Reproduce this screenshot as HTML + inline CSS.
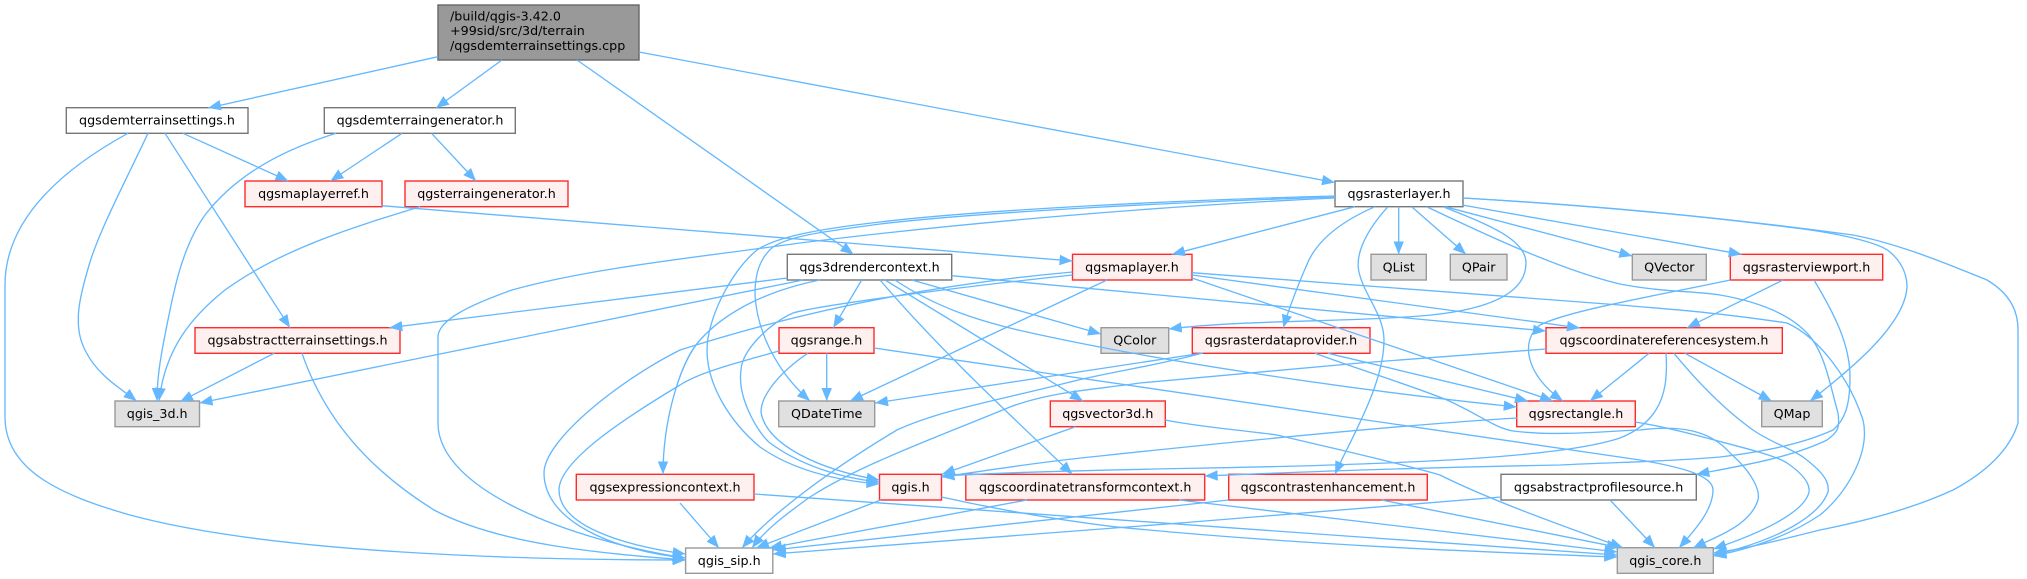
<!DOCTYPE html>
<html><head><meta charset="utf-8"><style>
html,body{margin:0;padding:0;background:#fff}
svg{display:block}
text{font-family:"DejaVu Sans",sans-serif;font-size:12.7px;fill:#000;text-anchor:middle}
.w{fill:#fff;stroke:#777;stroke-width:1.4}
.l{fill:#fff;stroke:#999;stroke-width:1.4}
.r{fill:#fff0f0;stroke:#ff2a2a;stroke-width:1.4}
.g{fill:#e0e0e0;stroke:#999;stroke-width:1.4}
.e path{fill:none;stroke:#63b8ff;stroke-width:1.33;marker-end:url(#a)}
</style></head><body>
<svg width="2027" height="579" viewBox="0 0 2027 579" xmlns="http://www.w3.org/2000/svg">
<defs><marker id="a" markerUnits="userSpaceOnUse" markerWidth="14" markerHeight="11" refX="13" refY="5.25" orient="auto"><polygon points="0,0 13,5.25 0,10.5" fill="#63b8ff"/></marker></defs>
<rect x="0" y="0" width="2027" height="579" fill="#fff"/>
<rect x="438" y="5" width="201" height="55" fill="#999" stroke="#666" stroke-width="1.4"/>
<text x="450" y="20.5" style="text-anchor:start">/build/qgis-3.42.0</text>
<text x="450" y="35.2" style="text-anchor:start">+99sid/src/3d/terrain</text>
<text x="450" y="50" style="text-anchor:start">/qgsdemterrainsettings.cpp</text>
<rect class="w" x="66.3" y="107.7" width="181.7" height="25.6"/><text x="157" y="124.7">qgsdemterrainsettings.h</text>
<rect class="w" x="324.3" y="107.7" width="191" height="25.6"/><text x="420" y="124.7">qgsdemterraingenerator.h</text>
<rect class="r" x="245" y="181" width="137" height="25.7"/><text x="313.5" y="198">qgsmaplayerref.h</text>
<rect class="r" x="405" y="181" width="163" height="25.7"/><text x="486.5" y="198">qgsterraingenerator.h</text>
<rect class="w" x="1335" y="181" width="128" height="25.7"/><text x="1399" y="198">qgsrasterlayer.h</text>
<rect class="w" x="787.3" y="254.3" width="164.4" height="25.7"/><text x="869.5" y="271.3">qgs3drendercontext.h</text>
<rect class="r" x="1072.5" y="254.3" width="119.5" height="25.7"/><text x="1132" y="271.3">qgsmaplayer.h</text>
<rect class="g" x="1371" y="254.3" width="55.3" height="25.7"/><text x="1398.7" y="271.3">QList</text>
<rect class="g" x="1450.3" y="254.3" width="56.7" height="25.7"/><text x="1478.7" y="271.3">QPair</text>
<rect class="g" x="1632.3" y="254.3" width="74" height="25.7"/><text x="1669.3" y="271.3">QVector</text>
<rect class="r" x="1730.3" y="254.3" width="152.4" height="25.7"/><text x="1806.5" y="271.3">qgsrasterviewport.h</text>
<rect class="r" x="195" y="327.7" width="205" height="25.6"/><text x="297.5" y="344.7">qgsabstractterrainsettings.h</text>
<rect class="r" x="779" y="327.7" width="95" height="25.6"/><text x="826.5" y="344.7">qgsrange.h</text>
<rect class="g" x="1101" y="327.7" width="67.7" height="25.6"/><text x="1134.8" y="344.7">QColor</text>
<rect class="r" x="1192.3" y="327.7" width="177.7" height="25.6"/><text x="1281" y="344.7">qgsrasterdataprovider.h</text>
<rect class="r" x="1546" y="327.7" width="236.3" height="25.6"/><text x="1664" y="344.7">qgscoordinatereferencesystem.h</text>
<rect class="g" x="115" y="401" width="84.5" height="25.7"/><text x="157.2" y="418">qgis_3d.h</text>
<rect class="g" x="778.7" y="401" width="96" height="25.7"/><text x="826.7" y="418">QDateTime</text>
<rect class="r" x="1050.3" y="401" width="115" height="25.7"/><text x="1107.8" y="418">qgsvector3d.h</text>
<rect class="r" x="1516.7" y="401" width="118.6" height="25.7"/><text x="1576" y="418">qgsrectangle.h</text>
<rect class="g" x="1761.7" y="401" width="60.6" height="25.7"/><text x="1792" y="418">QMap</text>
<rect class="r" x="576.3" y="474.3" width="177.7" height="25.7"/><text x="665" y="491.3">qgsexpressioncontext.h</text>
<rect class="r" x="879.5" y="474.3" width="62" height="25.7"/><text x="910.5" y="491.3">qgis.h</text>
<rect class="r" x="965.8" y="474.3" width="238.9" height="25.7"/><text x="1085.2" y="491.3">qgscoordinatetransformcontext.h</text>
<rect class="r" x="1228.7" y="474.3" width="198.6" height="25.7"/><text x="1328" y="491.3">qgscontrastenhancement.h</text>
<rect class="w" x="1501" y="474.3" width="195.3" height="25.7"/><text x="1598.6" y="491.3">qgsabstractprofilesource.h</text>
<rect class="l" x="685.6" y="548" width="87.2" height="25.3"/><text x="729.2" y="565">qgis_sip.h</text>
<rect class="g" x="1617.3" y="547.7" width="96" height="25.6"/><text x="1665.3" y="565">qgis_core.h</text>
<g class="e">
<path d="M438,56.7L208,108"/>
<path d="M502,60L436,108"/>
<path d="M577,60L853.5,254.3"/>
<path d="M639,52L1335,182.5"/>
<path d="M183,133.3L288.4,181"/>
<path d="M148,133.3C122,188 100,230 90,262C80,295 72,325 85,350C97,375 120,388 136.6,401"/>
<path d="M128,133.3C70,165 5,215 5,285L5,417C5,470 60,495 130,515C270,553 520,560 685.6,560"/>
<path d="M165,133.3L290,327.7"/>
<path d="M402,133.3L330.4,181"/>
<path d="M431.5,133.3L476,181"/>
<path d="M336,133.3C290,148 240,170 205,215C180,250 172,300 165,335C160,360 157,380 157,401"/>
<path d="M381.6,205.7L1072.5,261"/>
<path d="M420,206.7C350,228 280,250 225,290C190,318 165,350 159,401"/>
<path d="M274,353.3L180,401.7"/>
<path d="M302,353.3C325,420 370,470 434,510C500,545 600,553 685.6,560"/>
<path d="M787.3,278L389.4,327.7"/>
<path d="M803,280L199.5,403"/>
<path d="M820,280C770,290 727,310 700,340C680,362 663,420 663,474.3"/>
<path d="M861.7,280L833.3,327.7"/>
<path d="M880,280C940,350 1010,415 1072.4,474.3"/>
<path d="M885,280L1083,401"/>
<path d="M895,280C940,310 985,322 1018,330C1150,360 1350,390 1516.7,407"/>
<path d="M912,280L1101,334"/>
<path d="M951.7,275.7L1546,331"/>
<path d="M1355,206.7L1172,254.3"/>
<path d="M1375,206.7C1340,222 1318,240 1308,262C1298,285 1290,305 1283.3,327.7"/>
<path d="M1398.7,206.7L1398.7,254.3"/>
<path d="M1411.7,206.7L1466,254.3"/>
<path d="M1388,206.7C1365,232 1355,255 1359,272C1364,295 1384,315 1384,340C1384,385 1350,440 1335,474.3"/>
<path d="M1443,206.7C1490,225 1526,240 1526,263C1526,300 1470,312 1420,316C1350,322 1240,320 1168.7,329"/>
<path d="M1445,206.7L1632.3,256"/>
<path d="M1462,205L1741.7,254.3"/>
<path d="M1426.7,206.7C1480,232 1560,270 1620,284C1660,292 1695,291 1720,295C1760,302 1790,315 1807,333C1825,352 1830,385 1838,413C1840,428 1838,432 1827,440C1790,458 1740,466 1696.3,474.3"/>
<path d="M1463,198C1600,206 1700,216 1787,227C1840,233 1880,243 1890,252C1905,265 1907,278 1907,287C1905,325 1850,370 1810,401"/>
<path d="M1463,198C1600,206 1720,217 1853,235C1900,244 1950,265 1987,280C2012,295 2018,313 2018,330L2018,423C2010,450 1985,473 1953,490C1910,510 1860,522 1820,530C1780,540 1750,548 1713.3,553"/>
<path d="M1335,196C1180,200 980,210 880,222C810,230 775,238 757,250C730,272 707,320 707,350C707,385 730,422 760,447C790,468 830,480 879.5,484"/>
<path d="M1335,197C1180,202 980,212 880,224C820,232 790,236 773,247C755,262 755,285 755,295C757,330 775,370 810,401"/>
<path d="M1335,198C1160,206 960,223 800,243C700,257 590,268 512,290C470,305 438,320 438,337L438,423C438,490 570,540 685.6,558"/>
<path d="M1072.5,272C960,282 827,303 680,350C620,380 544,440 544,473C544,520 610,550 685.6,558"/>
<path d="M1072.5,275C960,287 820,305 793,313C770,323 742,350 741,370C737,400 760,435 770,443C800,465 840,478 879.5,482"/>
<path d="M1107,280L850,401"/>
<path d="M1192,272.7L1620,305C1680,310 1720,313 1787,323C1820,338 1850,380 1863,420C1870,450 1850,490 1820,515C1790,535 1755,548 1713.3,556"/>
<path d="M1192,275L1580,328"/>
<path d="M1192,278L1553,401"/>
<path d="M779,351C740,362 700,372 680,385C630,415 559,460 559,490C559,525 620,545 685.6,554"/>
<path d="M807.7,353.3C780,372 761,395 761,412C766,445 820,470 879.5,480"/>
<path d="M826.7,353.3L826.7,401"/>
<path d="M874,348C1100,380 1350,416 1640,460C1680,467 1713,475 1713,490C1713,510 1695,530 1679,548"/>
<path d="M1203,353L875,403"/>
<path d="M1202.5,353C1160,365 1110,372 1070,382C1000,400 940,410 897,430C830,470 770,515 742,548"/>
<path d="M1328,353.3L1528,401"/>
<path d="M1315,353.3C1360,370 1410,385 1447,400C1480,415 1495,428 1513,431C1560,437 1620,430 1640,430C1680,425 1710,430 1730,453C1755,475 1760,492 1758,500C1750,525 1720,535 1693,548"/>
<path d="M1546,349L1360,363C1260,372 1190,378 1140,383C1090,390 1050,392 1010,407C930,440 860,465 810,497C785,515 765,530 752,548"/>
<path d="M1666,353.3C1668,385 1665,420 1620,438C1560,458 1400,463 1300,466C1180,469 1050,470 941.5,476"/>
<path d="M1649,353.3L1590,401"/>
<path d="M1685,353.3L1771.7,401"/>
<path d="M1674,353.3C1700,385 1725,410 1753,430C1770,442 1790,448 1803,457C1820,470 1830,480 1828,492C1820,515 1780,540 1713.3,555"/>
<path d="M1730.3,280C1660,295 1570,310 1540,325C1520,340 1525,375 1563,401"/>
<path d="M1783,280L1687,327.7"/>
<path d="M1814,280C1835,315 1850,345 1850,377C1850,405 1845,420 1833,430C1800,445 1760,452 1720,457C1660,462 1620,462 1560,465C1400,468 1300,472 1204.7,476"/>
<path d="M1635.3,422C1660,426 1680,431 1703,437C1740,447 1775,455 1787,463C1805,475 1810,485 1809,492C1805,510 1770,530 1713.3,549"/>
<path d="M1517,418C1400,425 1250,440 1100,456C1040,462 990,470 941.5,477"/>
<path d="M1075.5,426.7L942,474.3"/>
<path d="M1165.3,420C1200,427 1240,430 1277,435C1340,450 1395,462 1440,475C1490,500 1560,525 1623,547.7"/>
<path d="M754,494L1360,537L1617.3,555"/>
<path d="M680,503L719,548"/>
<path d="M941.5,497C1000,510 1060,520 1113.6,526.7C1300,545 1480,552 1617.3,557"/>
<path d="M880.8,500L756,548"/>
<path d="M1027,500L769,548"/>
<path d="M1179,500L1617.3,552"/>
<path d="M1228.6,500L773,550"/>
<path d="M1381.7,500L1620,547.7"/>
<path d="M1501,497L1180,523L772.8,554"/>
<path d="M1610,500L1655,547.7"/>
</g>
</svg>
</body></html>
